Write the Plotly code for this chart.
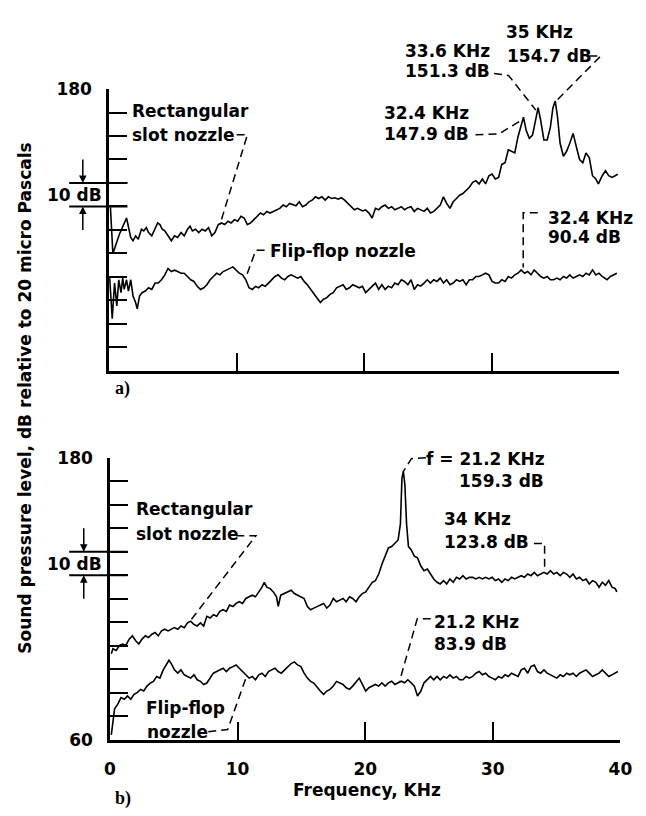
import plotly.graph_objects as go

W, H = 646, 816

# ---------------- data, (kHz, dB) pairs ----------------
top_rect = [
    (0.10, 130.5), (0.30, 109.9), (0.81, 118.2), (1.37, 125.1), (1.70, 116.8), (1.88, 115.4), (2.08, 117.5),
    (2.29, 116.1), (2.54, 120.3), (2.72, 119.6), (2.92, 121.0), (3.10, 118.9), (3.35, 117.5), (3.61, 121.0),
    (3.81, 123.0), (3.99, 122.3), (4.17, 120.3), (4.37, 119.6), (4.62, 117.5), (4.88, 115.4), (5.13, 117.5),
    (5.38, 116.8), (5.64, 118.9), (5.89, 117.5), (6.15, 120.3), (6.35, 121.6), (6.53, 119.6), (6.78, 120.3),
    (7.03, 118.9), (7.29, 120.3), (7.54, 119.6), (7.80, 121.0), (8.05, 117.5), (8.30, 118.9), (8.56, 122.3),
    (8.81, 123.0), (9.07, 122.3), (9.32, 123.7), (9.57, 123.0), (9.83, 124.4), (10.08, 123.7), (10.34, 125.8),
    (10.59, 125.1), (10.84, 122.3), (11.10, 123.0), (11.35, 124.4), (11.61, 125.8), (11.86, 127.2), (12.11, 126.5),
    (12.37, 127.9), (12.62, 127.2), (12.88, 127.9), (13.13, 128.6), (13.38, 129.2), (13.64, 130.6), (13.89, 129.9),
    (14.15, 131.3), (14.40, 130.9), (14.65, 130.3), (14.91, 132.0), (15.16, 129.9), (15.42, 130.6), (15.67, 132.0),
    (15.92, 132.7), (16.18, 134.1), (16.43, 133.4), (16.69, 134.1), (16.94, 132.7), (17.19, 134.1), (17.45, 133.4),
    (17.70, 133.7), (17.96, 133.1), (18.21, 133.7), (18.46, 132.7), (18.72, 131.3), (18.97, 129.9), (19.23, 128.6),
    (19.48, 129.2), (19.86, 128.1), (20.11, 128.5), (20.37, 127.2), (20.62, 125.1), (20.88, 129.2), (21.13, 128.6),
    (21.38, 129.9), (21.64, 130.6), (21.89, 129.2), (22.15, 129.9), (22.40, 128.6), (22.65, 129.2), (22.91, 129.9),
    (23.16, 128.6), (23.42, 129.5), (23.67, 129.9), (23.92, 127.9), (24.18, 129.2), (24.43, 128.6), (24.69, 127.9),
    (24.94, 129.2), (25.19, 127.2), (25.45, 127.9), (25.70, 129.2), (25.96, 130.6), (26.21, 134.1), (26.46, 131.3),
    (26.72, 129.2), (26.97, 132.0), (27.23, 133.4), (27.48, 134.8), (27.73, 135.5), (27.99, 136.8), (28.24, 138.2),
    (28.50, 140.3), (28.75, 141.0), (29.00, 139.6), (29.26, 141.7), (29.51, 139.6), (29.77, 143.1), (30.02, 143.8),
    (30.27, 141.7), (30.53, 142.4), (30.78, 147.9), (31.04, 148.6), (31.29, 154.1), (31.54, 153.5), (31.80, 152.8),
    (32.05, 159.7), (32.30, 165.2), (32.48, 168.0), (32.69, 162.4), (32.94, 159.0), (33.19, 160.4), (33.45, 168.0),
    (33.63, 172.1), (33.83, 166.6), (34.08, 158.3), (34.34, 158.3), (34.59, 163.8), (34.79, 172.1), (34.97, 174.9),
    (35.15, 168.0), (35.35, 156.9), (35.61, 151.4), (35.86, 153.5), (36.11, 156.9), (36.37, 161.1), (36.62, 155.5),
    (36.88, 150.0), (37.13, 148.6), (37.38, 152.8), (37.64, 150.7), (37.89, 143.1), (38.15, 141.7), (38.35, 139.6),
    (38.65, 143.1), (38.91, 145.2), (39.16, 143.1), (39.42, 142.4), (39.67, 143.1), (39.87, 143.8),
]

top_flip = [
    (0.05, 99.5), (0.25, 82.2), (0.43, 97.4), (0.61, 87.7), (0.76, 98.8), (0.94, 93.3), (1.07, 99.5), (1.19, 94.7),
    (1.37, 98.8), (1.52, 94.0), (1.70, 98.8), (1.88, 91.9), (2.08, 89.1), (2.21, 86.4), (2.39, 91.9), (2.59, 93.3),
    (2.84, 94.0), (3.10, 95.4), (3.35, 94.7), (3.61, 97.4), (3.86, 97.4), (4.11, 98.8), (4.37, 100.9), (4.62, 103.6),
    (4.88, 102.3), (5.13, 102.9), (5.38, 102.3), (5.64, 101.6), (5.89, 101.6), (6.15, 100.2), (6.40, 98.8),
    (6.65, 98.1), (6.91, 96.0), (7.16, 94.7), (7.42, 95.4), (7.67, 96.7), (7.92, 98.8), (8.18, 100.2), (8.43, 101.6),
    (8.69, 100.9), (8.94, 102.3), (9.19, 102.9), (9.45, 103.6), (9.70, 104.3), (9.96, 102.9), (10.21, 101.6),
    (10.46, 100.9), (10.72, 98.8), (10.97, 95.4), (11.23, 94.7), (11.48, 96.0), (11.73, 95.4), (11.99, 96.7),
    (12.24, 96.0), (12.50, 97.4), (12.75, 98.8), (13.00, 100.2), (13.26, 100.9), (13.51, 99.5), (13.77, 98.8),
    (14.02, 100.2), (14.27, 100.9), (14.53, 100.2), (14.78, 99.5), (15.03, 100.2), (15.29, 98.1), (15.54, 96.7),
    (15.80, 94.7), (16.05, 93.3), (16.30, 91.2), (16.56, 89.1), (16.81, 90.5), (17.07, 91.2), (17.32, 92.6),
    (17.57, 93.3), (17.83, 95.4), (18.08, 96.0), (18.34, 96.7), (18.59, 94.7), (18.84, 95.4), (19.10, 96.7),
    (19.35, 96.0), (19.61, 95.4), (19.86, 96.0), (20.11, 93.3), (20.37, 94.7), (20.62, 96.1), (20.88, 97.4),
    (21.13, 94.7), (21.38, 96.7), (21.64, 94.7), (21.89, 96.1), (22.15, 95.4), (22.40, 97.4), (22.65, 96.7),
    (22.91, 98.8), (23.16, 98.1), (23.42, 96.7), (23.67, 98.8), (23.92, 94.7), (24.18, 96.7), (24.43, 96.1),
    (24.69, 97.4), (24.94, 98.8), (25.19, 97.4), (25.45, 98.8), (25.70, 98.1), (25.96, 99.5), (26.21, 97.4),
    (26.46, 98.8), (26.72, 96.7), (26.97, 97.4), (27.23, 98.8), (27.48, 98.1), (27.73, 98.8), (27.99, 96.7),
    (28.24, 98.8), (28.50, 98.8), (28.75, 100.2), (29.00, 100.2), (29.26, 100.9), (29.51, 101.6), (29.77, 100.9),
    (30.02, 98.1), (30.27, 97.4), (30.53, 97.4), (30.78, 98.8), (31.04, 98.1), (31.29, 100.2), (31.54, 99.5),
    (31.80, 100.9), (32.05, 101.6), (32.30, 103.0), (32.56, 101.6), (32.81, 102.3), (33.07, 100.9), (33.32, 103.0),
    (33.57, 101.6), (33.83, 100.2), (34.08, 99.5), (34.34, 100.2), (34.59, 98.8), (34.84, 98.8), (35.10, 99.5),
    (35.35, 98.8), (35.61, 100.2), (35.86, 99.5), (36.11, 100.9), (36.37, 99.5), (36.62, 100.2), (36.88, 100.9),
    (37.13, 100.2), (37.38, 101.6), (37.64, 100.9), (37.89, 103.0), (38.15, 100.9), (38.40, 101.6), (38.65, 100.2),
    (39.03, 98.8), (39.29, 100.2), (39.54, 100.9), (39.80, 101.6),
]

bot_rect = [
    (0.10, 96.6), (0.23, 98.7), (0.48, 98.0), (0.74, 100.1), (0.99, 100.7), (1.24, 100.1), (1.50, 102.8),
    (1.75, 104.2), (2.01, 102.1), (2.26, 100.7), (2.51, 102.8), (2.77, 104.2), (3.02, 103.5), (3.28, 104.9),
    (3.53, 105.6), (3.78, 104.2), (4.04, 106.3), (4.29, 107.0), (4.55, 106.3), (4.80, 107.0), (5.05, 107.7),
    (5.31, 107.0), (5.56, 108.4), (5.82, 107.7), (6.07, 109.7), (6.32, 110.4), (6.58, 109.0), (6.83, 108.4),
    (7.09, 109.7), (7.34, 108.4), (7.59, 112.5), (7.85, 111.8), (8.10, 113.2), (8.36, 112.5), (8.61, 114.6),
    (8.86, 115.3), (9.12, 114.6), (9.37, 117.3), (9.63, 116.7), (9.88, 118.0), (10.13, 118.7), (10.39, 118.0),
    (10.64, 120.1), (10.90, 120.8), (11.15, 121.5), (11.40, 120.8), (11.66, 122.9), (11.91, 124.9), (12.09, 127.0),
    (12.29, 124.9), (12.55, 124.3), (12.80, 122.9), (13.05, 120.8), (13.18, 116.7), (13.38, 121.5), (13.69, 122.2),
    (13.94, 122.9), (14.20, 123.6), (14.45, 122.2), (14.70, 121.5), (14.96, 120.8), (15.21, 120.1), (15.47, 116.7),
    (15.72, 115.3), (15.97, 116.0), (16.23, 116.7), (16.48, 117.3), (16.74, 118.0), (16.99, 116.0), (17.24, 117.3),
    (17.50, 120.1), (17.75, 118.7), (18.01, 119.4), (18.26, 120.1), (18.51, 118.7), (18.77, 120.8), (19.02, 120.1),
    (19.28, 118.7), (19.53, 120.8), (19.78, 122.2), (20.04, 122.9), (20.29, 124.9), (20.55, 127.0), (20.80, 127.7),
    (21.06, 130.5), (21.31, 134.7), (21.56, 138.1), (21.82, 141.6), (22.07, 142.2), (22.33, 143.6), (22.58, 145.0),
    (22.76, 151.9), (22.88, 171.3), (22.99, 174.1), (23.11, 168.5), (23.24, 151.9), (23.39, 142.2), (23.60, 140.9),
    (23.85, 138.1), (24.10, 137.4), (24.36, 133.9), (24.61, 131.9), (24.87, 132.6), (25.12, 130.5), (25.37, 128.4),
    (25.63, 127.0), (25.88, 126.3), (26.14, 127.7), (26.39, 126.3), (26.64, 128.4), (26.90, 127.0), (27.15, 129.1),
    (27.41, 128.4), (27.66, 129.8), (27.91, 128.4), (28.17, 129.1), (28.42, 129.1), (28.67, 128.4), (28.93, 129.1),
    (29.18, 128.4), (29.44, 129.1), (29.69, 128.4), (29.95, 129.1), (30.20, 127.7), (30.45, 128.4), (30.71, 127.0),
    (30.96, 128.4), (31.21, 127.7), (31.47, 129.1), (31.72, 128.4), (31.98, 129.1), (32.23, 129.8), (32.48, 129.1),
    (32.74, 130.5), (32.99, 129.8), (33.25, 131.2), (33.50, 129.8), (33.75, 130.5), (34.01, 131.2), (34.26, 130.5),
    (34.52, 131.9), (34.77, 130.5), (35.02, 131.2), (35.28, 129.8), (35.53, 131.2), (35.79, 130.5), (36.04, 129.1),
    (36.29, 130.5), (36.55, 128.4), (36.80, 129.1), (37.06, 127.7), (37.31, 128.4), (37.56, 126.3), (37.82, 127.7),
    (38.07, 127.0), (38.33, 124.9), (38.58, 127.0), (38.83, 125.7), (39.09, 127.7), (39.34, 124.9), (39.60, 124.3),
    (39.72, 122.9),
]

bot_flip = [
    (0.10, 62.0), (0.23, 68.9), (0.36, 73.1), (0.61, 75.1), (0.86, 77.9), (1.12, 77.2), (1.37, 78.6), (1.63, 77.2),
    (1.88, 79.3), (2.13, 80.0), (2.39, 81.4), (2.64, 80.7), (2.90, 82.8), (3.15, 84.1), (3.40, 84.8), (3.66, 86.9),
    (3.91, 86.2), (4.17, 89.7), (4.42, 91.8), (4.62, 93.8), (4.80, 92.4), (5.05, 89.7), (5.31, 88.3), (5.56, 89.7),
    (5.82, 87.6), (6.07, 86.9), (6.32, 86.2), (6.58, 87.6), (6.83, 85.5), (7.09, 84.8), (7.34, 83.5), (7.59, 84.1),
    (7.85, 86.2), (8.10, 88.3), (8.36, 89.0), (8.61, 89.7), (8.86, 90.4), (9.12, 89.0), (9.37, 90.4), (9.63, 91.1),
    (9.88, 91.8), (10.13, 90.4), (10.39, 89.0), (10.64, 87.6), (10.90, 86.2), (11.15, 86.9), (11.40, 85.5),
    (11.66, 87.6), (11.91, 88.3), (12.17, 86.9), (12.42, 89.0), (12.67, 89.7), (12.93, 90.4), (13.18, 89.0),
    (13.43, 88.3), (13.69, 89.7), (13.94, 91.1), (14.20, 92.4), (14.45, 93.1), (14.70, 91.8), (14.96, 91.1),
    (15.21, 88.3), (15.47, 86.2), (15.72, 84.8), (15.97, 84.1), (16.23, 82.1), (16.48, 80.7), (16.74, 79.3),
    (16.99, 80.7), (17.24, 81.4), (17.50, 82.8), (17.75, 84.8), (18.01, 84.1), (18.26, 83.5), (18.51, 82.1),
    (18.77, 81.4), (19.02, 82.8), (19.28, 84.8), (19.53, 86.2), (19.78, 83.5), (20.04, 80.7), (20.29, 82.1),
    (20.55, 82.8), (20.80, 83.5), (21.06, 82.8), (21.31, 84.2), (21.56, 82.8), (21.82, 84.2), (22.07, 84.9),
    (22.33, 83.5), (22.58, 84.2), (22.83, 84.9), (23.09, 84.2), (23.34, 85.5), (23.60, 84.2), (23.85, 82.8),
    (24.10, 78.6), (24.36, 80.7), (24.61, 84.2), (24.87, 85.5), (25.12, 86.9), (25.37, 85.5), (25.63, 86.9),
    (25.88, 85.5), (26.14, 86.9), (26.39, 86.2), (26.64, 87.6), (26.90, 86.2), (27.15, 86.9), (27.41, 85.5),
    (27.66, 85.5), (27.91, 86.9), (28.17, 86.2), (28.42, 86.9), (28.67, 88.3), (28.93, 89.0), (29.18, 87.6),
    (29.44, 88.3), (29.69, 86.9), (29.95, 86.2), (30.20, 85.5), (30.45, 86.9), (30.71, 86.2), (30.96, 87.6),
    (31.21, 86.9), (31.47, 88.3), (31.72, 87.6), (31.98, 86.9), (32.23, 89.7), (32.48, 90.4), (32.74, 88.3),
    (32.99, 91.1), (33.25, 91.8), (33.50, 89.0), (33.75, 88.3), (34.01, 89.7), (34.26, 88.3), (34.52, 87.6),
    (34.77, 86.9), (35.02, 86.2), (35.28, 87.6), (35.53, 86.9), (35.79, 88.3), (36.04, 87.6), (36.29, 88.3),
    (36.55, 86.9), (36.80, 88.3), (37.06, 89.0), (37.31, 89.7), (37.56, 88.3), (37.82, 86.9), (38.07, 87.6),
    (38.33, 88.3), (38.58, 89.7), (38.83, 88.3), (39.09, 86.9), (39.34, 87.6), (39.60, 88.3), (39.80, 89.0),
]

x_ticks = [0, 10, 20, 30, 40]
x_tick_labels = ["0", "10", "20", "30", "40"]
y_ticks = [60, 70, 80, 90, 100, 110, 120, 130, 140, 150, 160, 170, 180]
top_y_labels = ["", "", "", "", "", "", "", "", "", "", "", "", "180"]
bot_y_labels = ["60", "", "", "", "", "", "", "", "", "", "", "", "180"]

# ---------------- geometry (pixel positions on the 646x816 canvas) ----------------
FONT = "DejaVu Sans"
FS = 17
TOP_X = (106, 631)
TOP_Y = (370, 81)     # pixel rows of 60 dB and 180 dB
BOT_X = (107, 632)
BOT_Y = (748, 459)


def fx(p):
    return p / W


def fy(p):
    return 1 - p / H


def top_pt(xk, ydb):
    return (fx(TOP_X[0] + (TOP_X[1] - TOP_X[0]) * xk / 40.0),
            fy(TOP_Y[0] + (TOP_Y[1] - TOP_Y[0]) * (ydb - 60) / 120.0))


def bot_pt(xk, ydb):
    return (fx(BOT_X[0] + (BOT_X[1] - BOT_X[0]) * xk / 40.0),
            fy(BOT_Y[0] + (BOT_Y[1] - BOT_Y[0]) * (ydb - 60) / 120.0))


def split(pairs):
    return [p[0] for p in pairs], [p[1] for p in pairs]


fig = go.Figure()
line_style = dict(color="black", width=1.6)
for series, xa, ya in ((top_rect, "x", "y"), (top_flip, "x", "y"), (bot_rect, "x2", "y2"), (bot_flip, "x2", "y2")):
    xs, ys = split(series)
    fig.add_trace(go.Scatter(x=xs, y=ys, mode="lines", line=line_style, xaxis=xa, yaxis=ya))

axis_common = dict(showline=True, linecolor="black", linewidth=2.5, ticks="inside", ticklen=18,
                   tickwidth=2, tickcolor="black", showgrid=False, zeroline=False, mirror=False,
                   ticklabeloverflow="allow",
                   tickfont=dict(family=FONT, size=FS, color="black", weight="bold"))

fig.update_layout(
    width=W, height=H, autosize=False, margin=dict(l=0, r=0, t=0, b=0, pad=0),
    paper_bgcolor="white", plot_bgcolor="white", showlegend=False,
    xaxis=dict(domain=[fx(TOP_X[0]), fx(TOP_X[1])], anchor="y", range=[0, 40],
               tickvals=x_ticks, showticklabels=False, **axis_common),
    yaxis=dict(domain=[fy(TOP_Y[0]), fy(TOP_Y[1])], anchor="x", range=[60, 180],
               tickvals=y_ticks, ticktext=top_y_labels, ticklabelstandoff=11, **axis_common),
    xaxis2=dict(domain=[fx(BOT_X[0]), fx(BOT_X[1])], anchor="y2", range=[0, 40],
                tickvals=x_ticks, ticktext=x_tick_labels, ticklabelstandoff=12, **axis_common),
    yaxis2=dict(domain=[fy(BOT_Y[0]), fy(BOT_Y[1])], anchor="x2", range=[60, 180],
                tickvals=y_ticks, ticktext=bot_y_labels, ticklabelstandoff=11, **axis_common),
)

annotations = []
shapes = []


def txt(xp, yp, s, xanchor="left", size=FS, family=FONT, weight="bold", angle=0, align="left"):
    annotations.append(dict(x=fx(xp), y=fy(yp), xref="paper", yref="paper", text=s, showarrow=False,
                            xanchor=xanchor, yanchor="middle", textangle=angle, align=align,
                            font=dict(family=family, size=size, color="black", weight=weight)))


def leader(points, conv):
    pts = [conv(a, b) for a, b in points]
    path = "M " + " L ".join(f"{p[0]:.5f},{p[1]:.5f}" for p in pts)
    shapes.append(dict(type="path", path=path, xref="paper", yref="paper",
                       line=dict(color="black", width=1.5, dash="8px,5px")))


# ----- panel a) labels -----
txt(128, 104, "Rectangular")
txt(128, 128, "slot nozzle")
leader([(10.0, 160.5), (10.84, 160.5), (8.69, 122.3)], top_pt)
txt(270, 247, "Flip-flop nozzle")
leader([(12.19, 111.4), (11.5, 111.4), (10.74, 100.0)], top_pt)
txt(387, 106, "32.4 KHz")
txt(387, 127, "147.9 dB")
leader([(28.72, 160.5), (30.55, 160.9), (32.25, 166.5)], top_pt)
txt(408, 42, "33.6 KHz")
txt(408, 63, "151.3 dB")
leader([(30.17, 186.6), (31.31, 185.8), (33.45, 171.0)], top_pt)
txt(512, 23, "35 KHz")
txt(513, 47, "154.7 dB")
leader([(37.64, 194.1), (38.55, 194.1), (35.15, 175.5)], top_pt)
txt(555, 213, "32.4 KHz")
txt(555, 233, "90.4 dB")
leader([(33.6, 127.3), (32.46, 127.3), (32.46, 104.0)], top_pt)
txt(110, 388, "a)", family="Liberation Serif", size=18)

# ----- panel b) labels -----
txt(132, 512, "Rectangular")
txt(132, 537, "slot nozzle")
leader([(9.9, 146.8), (11.43, 146.8), (6.35, 111.0)], bot_pt)
txt(142, 716, "Flip-flop")
txt(143, 740, "nozzle")
leader([(7.70, 63.4), (9.22, 64.3), (10.67, 86.6)], bot_pt)
txt(557, 460, "f = 21.2 KHz", xanchor="right")
txt(555, 483, "159.3 dB", xanchor="right")
leader([(24.76, 180.0), (23.62, 179.6), (22.95, 173.8)], bot_pt)
txt(448, 522, "34 KHz")
txt(448, 545, "123.8 dB")
leader([(33.22, 143.5), (34.06, 143.5), (34.06, 131.5)], bot_pt)
txt(438, 627, "21.2 KHz")
txt(438, 650, "83.9 dB")
leader([(25.14, 111.5), (24.08, 111.5), (22.70, 85.0)], bot_pt)
txt(110, 808, "b)", family="Liberation Serif", size=18)

# ----- axis titles -----
txt(371, 800, "Frequency, KHz", xanchor="center")
txt(20, 398, "Sound pressure level, dB relative to 20 micro Pascals", xanchor="center", angle=-90)

# ----- 10 dB scale markers -----
for conv, xp, ytxt in ((top_pt, 79, 190), (bot_pt, 80, 568)):
    for level in (140, 130):
        _, yy = conv(0, level)
        shapes.append(dict(type="line", xref="paper", yref="paper", x0=fx(65), x1=fx(125), y0=yy, y1=yy,
                           line=dict(color="black", width=2)))
    _, y140 = conv(0, 140)
    _, y130 = conv(0, 130)
    annotations.append(dict(x=fx(xp), y=y140, xref="paper", yref="paper", text="", showarrow=True,
                            ax=0, ay=-25, arrowhead=2, arrowsize=1, arrowwidth=1.5, arrowcolor="black",
                            standoff=0))
    annotations.append(dict(x=fx(xp), y=y130, xref="paper", yref="paper", text="", showarrow=True,
                            ax=0, ay=25, arrowhead=2, arrowsize=1, arrowwidth=1.5, arrowcolor="black",
                            standoff=0))
    txt(70, ytxt, "10 dB", xanchor="center")

fig.update_layout(annotations=annotations, shapes=shapes)
fig.write_html("out.html", config={"responsive": False})
